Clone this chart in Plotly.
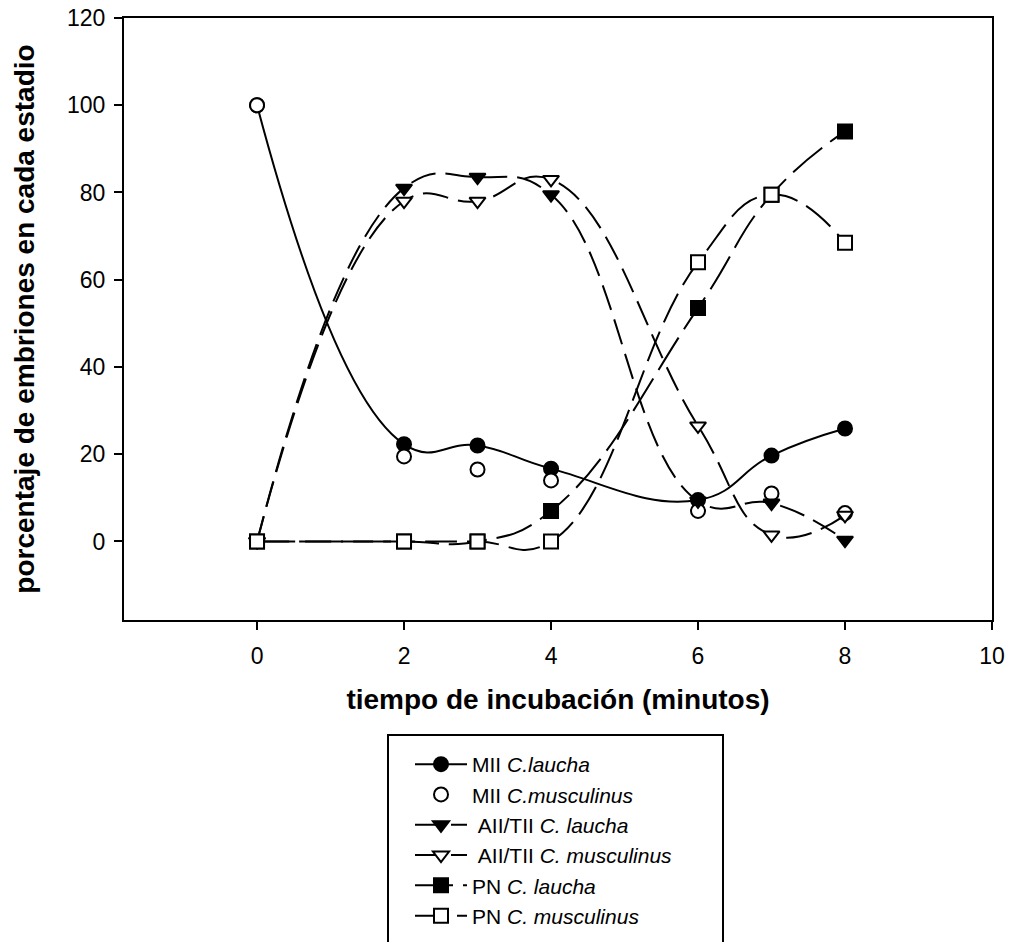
import plotly.graph_objects as go

tiempo = [0, 2, 3, 4, 6, 7, 8]
mii_laucha = [100, 22.3, 22, 16.7, 9.5, 19.7, 25.9]
mii_musculinus = [100, 19.5, 16.5, 14, 7, 11, 6.5]
aii_laucha = [0, 81, 83.5, 79.5, 9.3, 8.8, 0.3]
aii_musculinus = [0, 78, 78, 83, 26.5, 1.5, 6]
pn_laucha = [0, 0, 0, 7, 53.5, 79.5, 94]
pn_musculinus = [0, 0, 0, 0, 64, 79.5, 68.5]

x_ticks = [0, 2, 4, 6, 8, 10]
y_ticks = [0, 20, 40, 60, 80, 100, 120]

FONT = "Liberation Sans, Arial, sans-serif"
BLACK = "black"

fig = go.Figure()

def add(y, name, symbol, filled, dash, show_line=True):
    fig.add_trace(go.Scatter(
        x=tiempo, y=y, name=name,
        mode="lines+markers" if show_line else "markers",
        line=dict(color=BLACK, width=2, dash=dash, shape="spline", smoothing=1.3),
        marker=dict(symbol=symbol, size=14, color=BLACK if filled else "white",
                    line=dict(color=BLACK, width=2)),
    ))

add(mii_laucha, "MII <i>C.laucha</i>", "circle", True, "solid")
add(mii_musculinus, "MII <i>C.musculinus</i>", "circle", False, "solid", show_line=False)
add(aii_laucha, "\u00a0AII/TII <i>C. laucha</i>", "triangle-down", True, "26px,10px")
add(aii_musculinus, "\u00a0AII/TII <i>C. musculinus</i>", "triangle-down", False, "26px,10px")
add(pn_laucha, "PN <i>C. laucha</i>", "square", True, "38px,10px")
add(pn_musculinus, "PN <i>C. musculinus</i>", "square", False, "32px,10px")

# legend frame (drawn as a shape, open at the bottom edge of the page)
fig.add_shape(type="rect", xref="paper", yref="paper",
              x0=(388 - 124) / 868, x1=(723 - 124) / 868,
              y0=(620 - 960) / 602, y1=(620 - 735) / 602,
              line=dict(color=BLACK, width=2), fillcolor="rgba(0,0,0,0)", layer="above")

fig.update_layout(
    width=1010, height=942,
    paper_bgcolor="white", plot_bgcolor="white",
    margin=dict(l=124, r=18, t=18, b=322, autoexpand=False),
    font=dict(family=FONT, size=23, color=BLACK),
    showlegend=True,
    legend=dict(
        x=0.3295, y=-0.206, xanchor="left", yanchor="top",
        borderwidth=0, bgcolor="rgba(0,0,0,0)",
        font=dict(family=FONT, size=21, color=BLACK),
        tracegroupgap=0, itemwidth=52,
    ),
    xaxis=dict(
        range=[-1.81, 10], tickvals=x_ticks, ticktext=[str(v) for v in x_ticks],
        showgrid=False, zeroline=False, showline=True, linecolor=BLACK, linewidth=2,
        mirror=True, ticks="outside", ticklen=8, tickwidth=2, tickcolor=BLACK,
        tickfont=dict(size=23), ticklabelstandoff=6,
        title=dict(text="<b>tiempo de incubación (minutos)</b>", font=dict(size=28), standoff=22),
    ),
    yaxis=dict(
        range=[-18, 120], tickvals=y_ticks, ticktext=[str(v) for v in y_ticks],
        showgrid=False, zeroline=False, showline=True, linecolor=BLACK, linewidth=2,
        mirror=True, ticks="outside", ticklen=8, tickwidth=2, tickcolor=BLACK,
        tickfont=dict(size=23), ticklabelstandoff=4,
        title=dict(text="<b>porcentaje de embriones en cada estadio</b>", font=dict(size=28), standoff=24),
    ),
)

fig.write_html("out.html", config={"displayModeBar": False},
               post_script="document.body.style.margin='0';document.body.style.overflow='hidden';")
